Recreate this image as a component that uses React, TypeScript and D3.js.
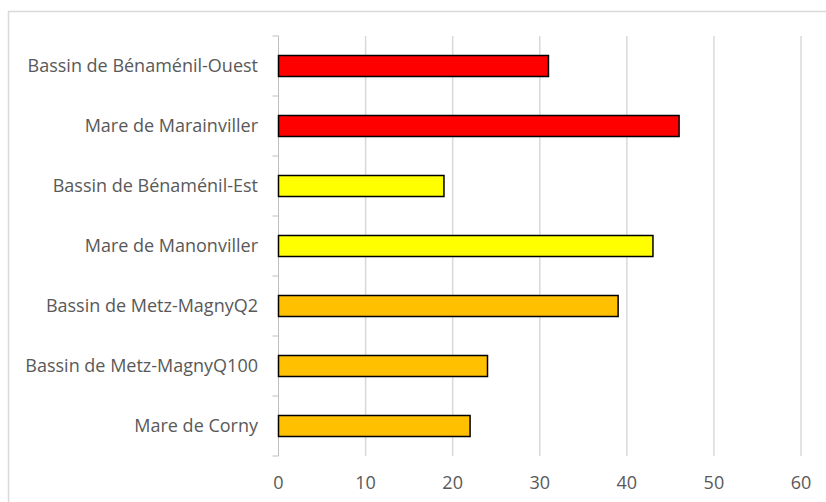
import React from "react";
import * as d3 from "d3";

const categories = [
  "Bassin de Bénaménil-Ouest",
  "Mare de Marainviller",
  "Bassin de Bénaménil-Est",
  "Mare de Manonviller",
  "Bassin de Metz-MagnyQ2",
  "Bassin de Metz-MagnyQ100",
  "Mare de Corny",
];
const values = [31, 46, 19, 43, 39, 24, 22];
const barColors = ["#FF0000", "#FF0000", "#FFFF00", "#FFFF00", "#FFC000", "#FFC000", "#FFC000"];
const xTicks = [0, 10, 20, 30, 40, 50, 60];

const W = 826;
const H = 502;
const left = 278.5;
const right = 801;
const top = 36;
const bottom = 456;

export default function App() {
  const x = d3.scaleLinear().domain([0, 60]).range([left, right]);
  const y = d3.scaleBand().domain(categories).range([top, bottom]).paddingInner(0.65).paddingOuter(0.325);
  const band = d3.scaleBand().domain(categories).range([top, bottom]);
  const font = "'Open Sans', sans-serif";
  return (
    <svg width={W} height={H} style={{ position: "absolute", left: 0, top: 0, background: "#fff" }}>
      <rect x={8.5} y={11.5} width={W + 10} height={H + 10} fill="#fff" stroke="#d9d9d9" strokeWidth={1.5} />
      {xTicks.slice(1).map((t) => (
        <line key={t} x1={x(t)} x2={x(t)} y1={top} y2={bottom} stroke="#d9d9d9" strokeWidth={1.5} />
      ))}
      <line x1={left} x2={left} y1={top} y2={bottom} stroke="#bfbfbf" strokeWidth={1} />
      {categories.map((c) => (
        <line key={"t" + c} x1={left - 6} x2={left} y1={band(c)!} y2={band(c)!} stroke="#bfbfbf" strokeWidth={1} />
      ))}
      <line x1={left - 6} x2={left} y1={bottom} y2={bottom} stroke="#bfbfbf" strokeWidth={1} />
      {categories.map((c, i) => (
        <rect
          key={"b" + c}
          x={x(0)}
          y={y(c)!}
          width={x(values[i]) - x(0)}
          height={y.bandwidth()}
          fill={barColors[i]}
          stroke="#000"
          strokeWidth={1.5}
        />
      ))}
      {categories.map((c) => (
        <text
          key={"l" + c}
          x={258}
          y={band(c)! + band.bandwidth() / 2}
          dy="0.35em"
          textAnchor="end"
          fill="#595959"
          fontSize={18}
          fontFamily={font}
        >
          {c}
        </text>
      ))}
      {xTicks.map((t) => (
        <text key={"x" + t} x={x(t)} y={483} dy="0.35em" textAnchor="middle" fill="#595959" fontSize={18} fontFamily={font}>
          {t}
        </text>
      ))}
    </svg>
  );
}
